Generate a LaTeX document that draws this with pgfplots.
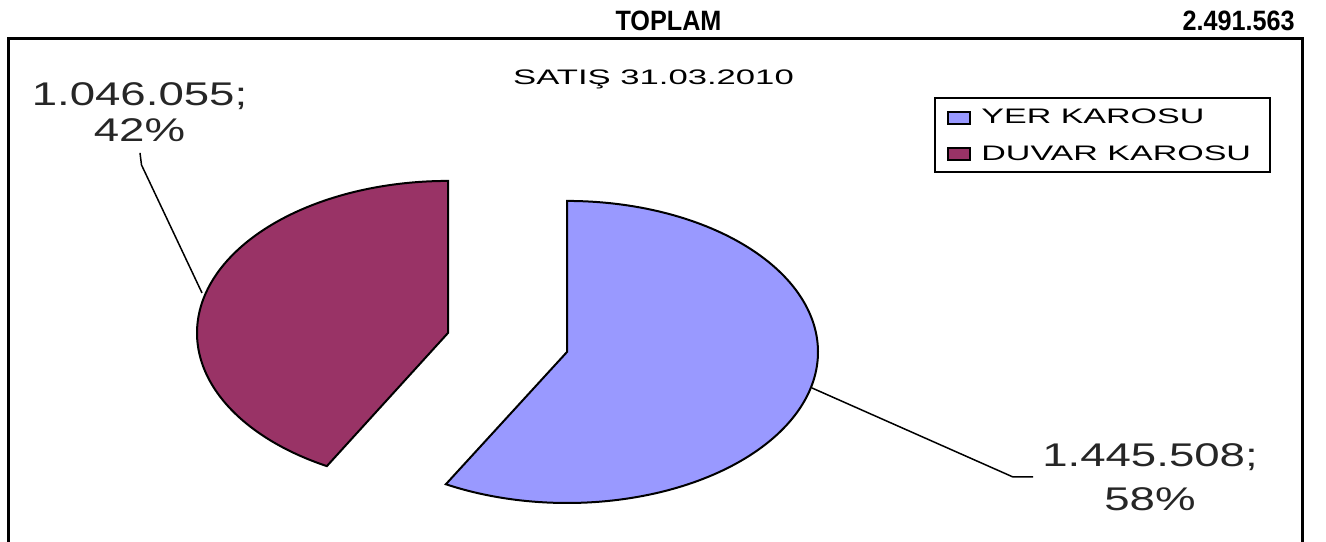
\documentclass[border=0pt]{standalone}
\usepackage{pgfplots}
\pgfplotsset{compat=1.18}
\usepackage{pgfplotstable}
\usepackage{fontspec}
\setmainfont{Liberation Sans}
\newfontfamily\labfont{Liberation Sans}[FakeStretch=1.39]
\newfontfamily\titfont{Liberation Sans}[FakeStretch=1.65]
\newfontfamily\legfont{Liberation Sans}[FakeStretch=1.62]
\newfontfamily\topfont{Liberation Sans}[FakeStretch=0.9]
\definecolor{yerC}{HTML}{9999FF}
\definecolor{duvC}{HTML}{993366}
\pgfplotstableread{
name value
YER 1445508
DUVAR 1046055
}\satis
\pgfplotstablegetelem{0}{value}\of\satis \edef\vYer{\pgfplotsretval}
\pgfplotstablegetelem{1}{value}\of\satis \edef\vDuv{\pgfplotsretval}
\edef\aYer{\fpeval{round(360*\vYer/(\vYer+\vDuv),4)}}
\edef\aEnd{\fpeval{90-\aYer}}
\edef\aRedEnd{\fpeval{360+\aEnd}}
\begin{document}
\begin{tikzpicture}
\begin{axis}[
  scale only axis, width=663pt, height=270.5pt,
  xmin=0, xmax=1326, ymin=0, ymax=541, y dir=reverse,
  hide axis, clip=true,
]
% YER KAROSU wedge
\addplot[fill=yerC, draw=black, line width=1pt, domain=\aEnd:90, samples=150, variable=\t]
  ({567+251*cos(t)}, {352-151*sin(t)}) -- (axis cs:567,352) -- cycle;
% DUVAR KAROSU wedge (exploded)
\addplot[fill=duvC, draw=black, line width=1pt, domain=90:\aRedEnd, samples=150, variable=\t]
  ({448+251*cos(t)}, {333-152*sin(t)}) -- (axis cs:448,333) -- cycle;
% frame
\draw[line width=1.5pt] (8.5,545) -- (8.5,38.5) -- (1302,38.5) -- (1302,545);
% leader lines
\draw[line width=0.75pt] (140,153) -- (141.5,165) -- (202,293);
\draw[line width=0.75pt] (812,388) -- (1013,477) -- (1033,477);
% legend
\draw[line width=1pt] (935,98) rectangle (1270,172);
\draw[line width=0.8pt, fill=yerC] (948,112) rectangle (970,124);
\draw[line width=0.8pt, fill=duvC] (948,148) rectangle (970,160);
\node[anchor=base west, inner sep=0pt, font=\legfont\fontsize{10.5pt}{12pt}\selectfont] at (981,124) {YER KAROSU};
\node[anchor=base west, inner sep=0pt, font=\legfont\fontsize{10.5pt}{12pt}\selectfont] at (981,161) {DUVAR KAROSU};
% title
\node[anchor=base, inner sep=0pt, font=\titfont\fontsize{10.5pt}{12pt}\selectfont] at (653.5,85) {SATIŞ 31.03.2010};
% data labels
\node[anchor=base, inner sep=0pt, font=\labfont\fontsize{16.4pt}{18pt}\selectfont, text=black!85] at (139.5,106) {1.046.055;};
\node[anchor=base, inner sep=0pt, font=\labfont\fontsize{16.4pt}{18pt}\selectfont, text=black!85] at (139.5,142) {42\%};
\node[anchor=base, inner sep=0pt, font=\labfont\fontsize{16.4pt}{18pt}\selectfont, text=black!85] at (1150,467) {1.445.508;};
\node[anchor=base, inner sep=0pt, font=\labfont\fontsize{16.4pt}{18pt}\selectfont, text=black!85] at (1150,510) {58\%};
% top line
\node[anchor=base, inner sep=0pt, font=\topfont\bfseries\fontsize{14pt}{16pt}\selectfont] at (668.5,31) {TOPLAM};
\node[anchor=base east, inner sep=0pt, font=\topfont\bfseries\fontsize{14pt}{16pt}\selectfont] at (1295,31) {2.491.563};
\end{axis}
\pgfresetboundingbox
\useasboundingbox (0,0) rectangle (663pt,270.5pt);
\end{tikzpicture}
\end{document}
